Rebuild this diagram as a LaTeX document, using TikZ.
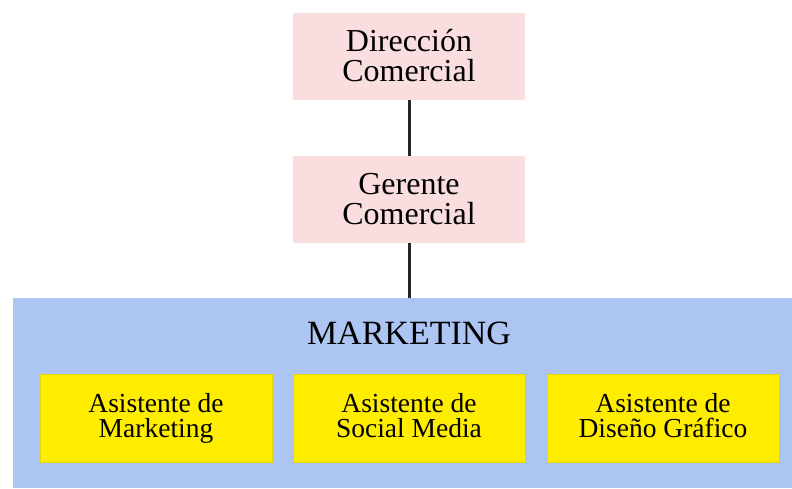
\documentclass[tikz,border=0pt]{standalone}
\usepackage{fontspec}
\setmainfont{Liberation Serif}
\usetikzlibrary{positioning}
\definecolor{rosa}{RGB}{250,221,222}
\definecolor{azul}{RGB}{173,197,243}
\definecolor{amarillo}{RGB}{255,237,0}
\tikzset{
  jefe/.style={fill=rosa, minimum width=232pt, minimum height=87pt, align=center,
    inner sep=0pt, font=\fontsize{32}{30}\selectfont},
  asistente/.style={fill=amarillo, draw=amarillo!90!black, line width=0.5pt,
    minimum width=232pt, minimum height=88pt, align=center, inner sep=0pt,
    font=\fontsize{27.5}{25}\selectfont, execute at end node={\vphantom{g}}},
  enlace/.style={line width=3pt, draw=black!85}
}

\begin{document}
\begin{tikzpicture}[x=1pt, y=-1pt]
	\useasboundingbox (0,0) rectangle (792,488);

	\node[jefe] (direccion) at (409,56) {Dirección\\Comercial};
	\node[jefe] (gerente) at (409,199.5) {Gerente\\Comercial};

	\node[fill=azul, minimum width=779pt, minimum height=190pt, inner sep=0pt,
		anchor=north west] (marketing) at (13,298) {};
	\node[font=\fontsize{34}{30}\selectfont] (titulo) at (409,333) {MARKETING};

	\node[asistente] (asmkt) at (156,418) {Asistente de\\Marketing};
	\node[asistente] (associal) at (409,418) {Asistente de\\Social Media};
	\node[asistente] (asdiseno) at (663,418) {Asistente de\\Diseño Gráfico};

	\draw[enlace] (direccion) -- (gerente);
	\draw[enlace] (gerente.south) -- (gerente.south |- marketing.north);

\end{tikzpicture}
\end{document}
